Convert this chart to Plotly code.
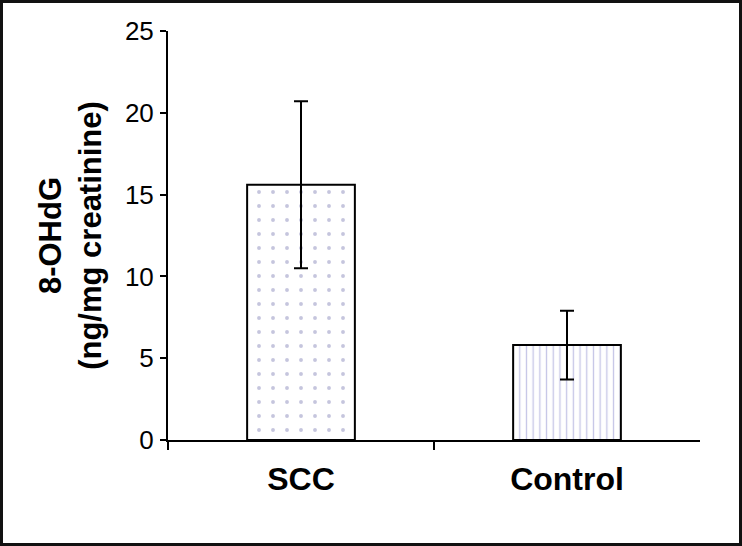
import plotly.graph_objects as go

categories = ["SCC", "Control"]
means = [15.6, 5.8]
sd = [5.1, 2.1]
y_ticks = [0, 5, 10, 15, 20, 25]

W, H = 742, 546
L, R, T, B = 168, 42, 31, 106
pw, ph = W - L - R, H - T - B

fig = go.Figure()
patterns = [
    dict(shape=".", fgcolor="#8c8cbc", bgcolor="white", size=14, solidity=0.06),
    dict(shape="|", fgcolor="#8e8ed0", bgcolor="white", size=6.7, solidity=0.2),
]
for i, (c, m, s) in enumerate(zip(categories, means, sd)):
    fig.add_trace(go.Bar(
        x=[i], y=[m], width=0.405,
        marker=dict(color="white", line=dict(color="black", width=2), pattern=patterns[i]),
        error_y=dict(type="data", array=[s], visible=True, color="black", thickness=2, width=7),
        showlegend=False,
    ))

fig.update_layout(
    width=W, height=H,
    margin=dict(l=L, r=R, t=T, b=B, pad=0),
    paper_bgcolor="white", plot_bgcolor="white",
    font=dict(family="Liberation Sans, Arial", color="black"),
    xaxis=dict(
        range=[-0.5, 1.5], tickvals=[0, 1], ticktext=categories,
        ticks="", showline=True, linecolor="black", linewidth=2,
        showgrid=False, zeroline=False,
        tickfont=dict(size=32, family="Liberation Sans, Arial", weight="bold"),
        ticklabelstandoff=10,
        minor=dict(tickvals=[-0.5, 0.5], ticks="outside", ticklen=8, tickwidth=2, tickcolor="black"),
    ),
    yaxis=dict(
        range=[0, 25], tickvals=y_ticks, ticks="outside", ticklen=6, tickwidth=2,
        tickcolor="black", showline=True, linecolor="black", linewidth=2,
        showgrid=False, zeroline=False, tickfont=dict(size=26),
        ticklabelstandoff=1,
        title=dict(text="<b>8-OHdG<br>(ng/mg creatinine)</b>", font=dict(size=31), standoff=14),
    ),
    shapes=[dict(
        type="rect", xref="paper", yref="paper",
        x0=(-L + 1.5) / pw, x1=(W - L - 1.5) / pw,
        y0=(-B + 1.5) / ph, y1=(ph + T - 1.5) / ph,
        line=dict(color="#111111", width=3), fillcolor="rgba(0,0,0,0)", layer="above",
    )],
)
fig.write_html("out.html", config={"displayModeBar": False},
               post_script="document.body.style.margin='0';document.body.style.overflow='hidden';")
